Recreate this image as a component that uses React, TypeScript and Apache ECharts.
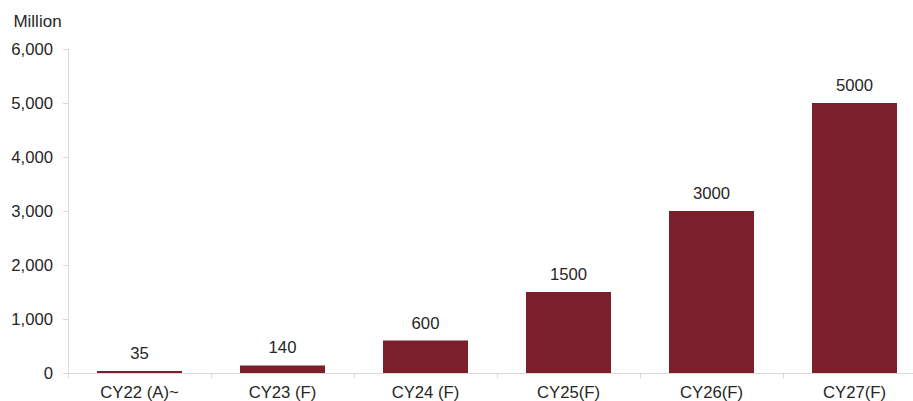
import React, { useEffect, useRef } from "react";
import * as echarts from "echarts";

const categories = ["CY22 (A)~", "CY23 (F)", "CY24 (F)", "CY25(F)", "CY26(F)", "CY27(F)"];
const values = [35, 140, 600, 1500, 3000, 5000];
const unitLabel = "Million";

export default function App() {
  const ref = useRef<HTMLDivElement>(null);
  useEffect(() => {
    const chart = echarts.init(ref.current!, null, { renderer: "svg" });
    const font = "Liberation Sans, Arial, sans-serif";
    chart.setOption({
      animation: false,
      grid: { left: 68, top: 49, width: 858, height: 325, containLabel: false },
      xAxis: {
        type: "category",
        data: categories,
        axisLine: { lineStyle: { color: "#D9D9D9", width: 1 } },
        axisTick: { show: true, lineStyle: { color: "#D9D9D9" }, length: 5 },
        axisLabel: { color: "#262626", fontSize: 16.7, fontFamily: font, margin: 11 },
      },
      yAxis: {
        type: "value",
        min: 0,
        max: 6000,
        interval: 1000,
        name: unitLabel,
        nameLocation: "end",
        nameGap: 19,
        nameTextStyle: { color: "#262626", fontSize: 17, fontFamily: font, align: "center", padding: [0, 0, 0, -61] },
        axisLine: { show: true, lineStyle: { color: "#D9D9D9" } },
        axisTick: { show: true, lineStyle: { color: "#D9D9D9" }, length: 5 },
        splitLine: { show: false },
        axisLabel: {
          color: "#262626",
          fontSize: 16.7,
          fontFamily: font,
          margin: 15,
          formatter: (v: number) => v.toLocaleString("en-US"),
        },
      },
      series: [
        {
          type: "bar",
          data: values,
          barWidth: 85,
          itemStyle: { color: "#7A1F2B" },
          label: {
            show: true,
            position: "top",
            distance: 9,
            color: "#262626",
            fontSize: 16.7,
            fontFamily: font,
          },
        },
      ],
    });
    return () => chart.dispose();
  }, []);
  return (
    <div style={{ width: 913, height: 401, position: "absolute", left: 0, top: 0, overflow: "hidden" }}>
      <div ref={ref} style={{ width: 940, height: 401 }} />
    </div>
  );
}
